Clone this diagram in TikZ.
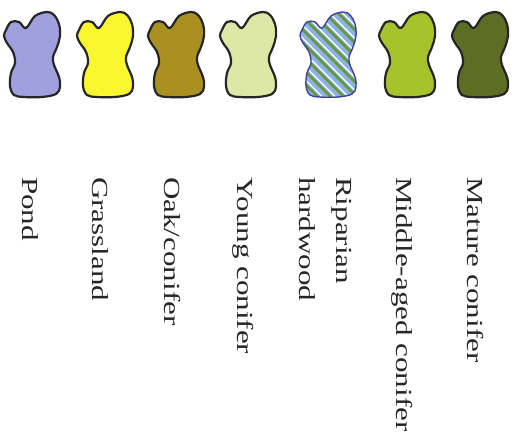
\documentclass[tikz,border=0pt]{standalone}
\usepackage{fontspec}
\setmainfont{Liberation Serif}

\definecolor{pondblue}{RGB}{160,160,222}
\definecolor{grassyellow}{RGB}{250,246,48}
\definecolor{oakolive}{RGB}{170,144,32}
\definecolor{youngpale}{RGB}{222,232,166}
\definecolor{riparblue}{RGB}{140,178,232}
\definecolor{ripargreen}{RGB}{104,150,58}
\definecolor{middlegreen}{RGB}{168,194,44}
\definecolor{maturegreen}{RGB}{94,108,36}

% one blob outline, centred on the current origin
\newcommand{\blobpath}{plot[smooth cycle, tension=0.6] coordinates {
  (-26,-25) (-21,-33) (-13,-33) (-6,-27) (3,-39) (15,-43) (22,-40)
  (27,-31) (28,-19) (25,-8) (21,2) (22,10) (27,22) (28,32) (24,39)
  (10,42) (-8,42) (-18,40) (-22,31) (-21,18) (-17,8) (-19,-3)
  (-25,-12) (-28,-19)}}
\newcommand{\wide}[1]{\scalebox{1.35}[1]{#1}}

\begin{document}
\begin{tikzpicture}[x=1pt, y=-1pt,
    blob/.style = {draw=black!85, line width=2.2pt},
    tag/.style = {rotate=-90, anchor=base west, inner sep=0pt,
      text=black!85, align=left, font=\fontsize{23}{37}\selectfont}]
  \useasboundingbox (0,0) rectangle (518,446);
  \fill[white] (0,0) rectangle (518,446);

  % plain blobs
  \foreach \x/\c in {32/pondblue, 105/grassyellow, 176/oakolive,
      248/youngpale, 407/middlegreen, 480/maturegreen}
    \draw[blob, fill=\c, shift={(\x,55)}] \blobpath;

  % striped blob
  \begin{scope}[shift={(328,55)}]
    \begin{scope}
      \clip \blobpath;
      \fill[riparblue] (-40,-50) rectangle (40,50);
      \foreach \i in {-104,-91,...,104} {
        \draw[ripargreen, line width=2.6pt] (\i-55,-55) -- (\i+55,55);
        \draw[white, line width=1.3pt] (\i-50.5,-55) -- (\i+59.5,55);
      }
    \end{scope}
    \draw[draw=blue!50!black!75, line width=1.4pt] \blobpath;
  \end{scope}

  % labels
  \node[tag] (pond) at (22,177) {\wide{Pond}};
  \node[tag] (grass) at (92,177) {\wide{Grassland}};
  \node[tag] (oak) at (164,177) {\wide{Oak/conifer}};
  \node[tag] (young) at (237,177) {\wide{Young conifer}};
  \node[tag] (ripar) at (299,177) {\wide{Riparian}\\\wide{hardwood}};
  \node[tag] (middle) at (396,177) {\wide{Middle-aged conifer}};
  \node[tag] (mature) at (467,177) {\wide{Mature conifer}};
\end{tikzpicture}
\end{document}
